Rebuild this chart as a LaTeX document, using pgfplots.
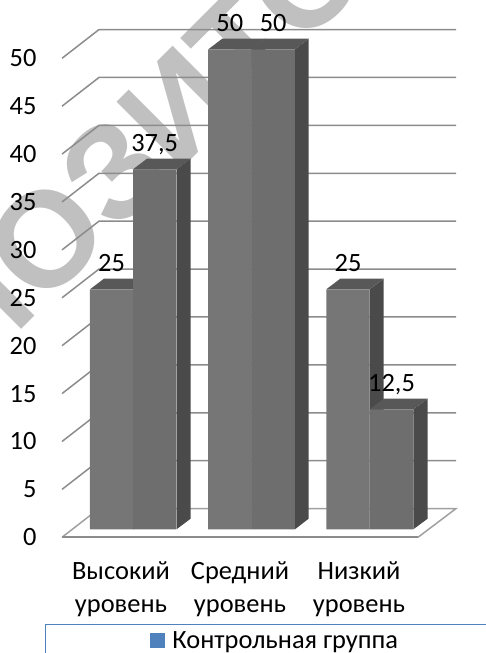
\documentclass[border=0pt]{standalone}
\usepackage{fontspec}
\setmainfont{Carlito}
\newfontfamily\wmfont{Liberation Sans}
\usepackage{pgfplots}
\pgfplotsset{compat=1.18}
\definecolor{gridg}{HTML}{8C8C8C}
\definecolor{floorg}{HTML}{A0A0A0}
\definecolor{fronta}{HTML}{767676}
\definecolor{frontb}{HTML}{6E6E6E}
\definecolor{topg}{HTML}{585858}
\definecolor{sideg}{HTML}{4A4A4A}
\definecolor{legblue}{HTML}{4F81BD}
\definecolor{wmgray}{HTML}{C0C0C0}
\pgfplotsset{
  side/.style={fill=sideg,draw=none},
  topf/.style={fill=topg,draw=none},
  bar/.style={ybar,bar width=43.4bp,bar shift=0pt,draw=none,
    nodes near coords,
    nodes near coords style={anchor=base,yshift=18bp,text=black,inner sep=0pt,font=\fontsize{26.5}{30}\selectfont}},
  grid line/.style={gridg,line width=1.5bp},
}
\begin{document}
\begin{tikzpicture}
\useasboundingbox (0,0) rectangle (486bp,653bp);
% watermark under the chart
\node[rotate=45,anchor=base west,inner sep=0pt,text=wmgray]
  at (-155bp,147bp) {\color{wmgray}\wmfont\bfseries\fontsize{136}{136}\selectfont РЕПОЗИТОРИЙ};
% walls, gridlines, value axis, categories, legend
\begin{axis}[
  at={(62bp,115.7bp)},anchor=south west,
  scale only axis,width=394bp,height=507.74bp,
  xmin=62,xmax=456,ymin=0,ymax=53,clip=false,
  axis line style={draw=none},tick style={draw=none},
  major tick length=0pt,
  ytick={0,5,...,50},
  xtick={121,240,359},
  xticklabels={{Высокий\\уровень},{Средний\\уровень},{Низкий\\уровень}},
  xticklabel style={align=center,inner sep=0pt,yshift=-24bp,font=\fontsize{26.5}{33}\selectfont},
  yticklabel style={anchor=east,inner sep=0pt,xshift=-25.3bp,font=\fontsize{26.5}{30}\selectfont},
  /pgf/number format/assume math mode=true,
  legend style={at={(axis cs:45,-9.05)},anchor=north west,draw=legblue,line width=1bp,
    inner xsep=104bp,inner ysep=5bp,font=\fontsize{26.5}{30}\selectfont},
  legend image code/.code={\fill[legblue] (0bp,-6.5bp) rectangle (14bp,7.5bp);\path (20bp,0bp);},
]
\addlegendimage{legblue}
\addlegendentry{Контрольная группа}
\addplot[grid line] coordinates {(62,5) (99,8) (456,8)};
\addplot[grid line] coordinates {(62,10) (99,13) (456,13)};
\addplot[grid line] coordinates {(62,15) (99,18) (456,18)};
\addplot[grid line] coordinates {(62,20) (99,23) (456,23)};
\addplot[grid line] coordinates {(62,25) (99,28) (456,28)};
\addplot[grid line] coordinates {(62,30) (99,33) (456,33)};
\addplot[grid line] coordinates {(62,35) (99,38) (456,38)};
\addplot[grid line] coordinates {(62,40) (99,43) (456,43)};
\addplot[grid line] coordinates {(62,45) (99,48) (456,48)};
\addplot[grid line] coordinates {(62,50) (99,53) (456,53)};
% floor
\addplot[floorg,line width=1.5bp] coordinates {(62,0) (99,3) (456,3) (418,0)};
\addplot[gridg,line width=2bp] coordinates {(62,0) (418,0)};
\end{axis}
% bars, real values, sitting on the floor
\begin{axis}[
  at={(0bp,123.7bp)},anchor=south west,
  scale only axis,width=486bp,height=480bp,
  xmin=0,xmax=486,ymin=0,ymax=50,clip=false,hide axis,
  /pgf/number format/.cd,assume math mode=true,use comma,fixed,
]
% first series
\addplot[side] coordinates {(133,0) (147,1.11) (147,26.11) (133,25)};
\addplot[topf] coordinates {(90,25) (133,25) (147,26.11) (104,26.11)};
\addplot[side] coordinates {(251.3,0) (265.3,1.11) (265.3,51.11) (251.3,50)};
\addplot[topf] coordinates {(208.3,50) (251.3,50) (265.3,51.11) (222.3,51.11)};
\addplot[side] coordinates {(369.7,0) (383.7,1.11) (383.7,26.11) (369.7,25)};
\addplot[topf] coordinates {(326.3,25) (369.7,25) (383.7,26.11) (340.3,26.11)};
\addplot[bar,fill=fronta] coordinates {(111.6,25) (229.8,50) (348,25)};
% second series
\addplot[side] coordinates {(176.5,0) (190.7,1.11) (190.7,38.61) (176.5,37.5)};
\addplot[topf] coordinates {(133,37.5) (176.5,37.5) (190.7,38.61) (147,38.61)};
\addplot[side] coordinates {(295,0) (308.7,1.11) (308.7,51.11) (295,50)};
\addplot[topf] coordinates {(251.3,50) (295,50) (308.7,51.11) (265.3,51.11)};
\addplot[side] coordinates {(413.3,0) (427.7,1.11) (427.7,13.61) (413.3,12.5)};
\addplot[topf] coordinates {(369.7,12.5) (413.3,12.5) (427.7,13.61) (383.7,13.61)};
\addplot[bar,fill=frontb] coordinates {(154.7,37.5) (273.2,50) (391.5,12.5)};
\end{axis}
\end{tikzpicture}
\end{document}
